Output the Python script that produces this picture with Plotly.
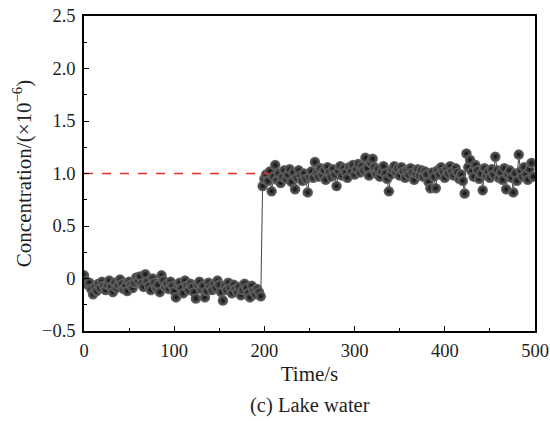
import plotly.graph_objects as go

pre_t = list(range(0, 198, 2))
pre_c = [0.03, -0.02, -0.06, -0.04, -0.10, -0.15, -0.08, -0.12, -0.05, -0.09,
         -0.03, -0.07, -0.11, -0.06, -0.02, -0.08, -0.13, -0.04, -0.09, -0.06,
         -0.01, -0.05, -0.10, -0.07, -0.12, -0.03, -0.06, -0.09, -0.04, 0.01,
         -0.02, 0.02, -0.05, -0.08, 0.04, -0.03, -0.07, -0.11, 0.00, -0.04,
         -0.09, -0.06, -0.13, 0.03, -0.02, -0.08, -0.05, -0.10, -0.03, -0.07,
         -0.12, -0.18, -0.06, -0.04, -0.09, -0.14, -0.02, -0.07, -0.11, -0.05,
         -0.08, -0.13, -0.19, -0.06, -0.03, -0.10, -0.07, -0.18, -0.12, -0.04,
         -0.08, -0.11, -0.05, -0.09, -0.02, -0.06, -0.13, -0.21, -0.07, -0.11,
         -0.04, -0.09, -0.14, -0.06, -0.10, -0.13, -0.08, -0.16, -0.11, -0.05,
         -0.09, -0.14, -0.18, -0.07, -0.12, -0.15, -0.10, -0.13, -0.17]

post_t = list(range(198, 500, 2))
post_c = [0.88, 0.95, 0.99, 0.93, 1.02, 0.83, 0.97, 1.08, 0.94, 1.00,
          0.91, 0.97, 1.03, 0.95, 0.99, 1.04, 0.92, 1.01, 0.85, 0.96,
          1.03, 0.98, 0.93, 1.00, 0.95, 0.82, 0.97, 1.02, 0.96, 1.11,
          1.00, 0.97, 1.05, 0.99, 1.03, 0.94, 1.06, 1.01, 0.97, 1.04,
          0.99, 0.88, 1.02, 1.07, 0.98, 1.05, 1.01, 0.96, 1.06, 1.02,
          1.08, 0.99, 1.04, 1.09, 1.01, 1.07, 1.03, 1.15, 1.05, 0.98,
          1.10, 1.14, 1.06, 1.00, 1.04, 0.97, 1.02, 1.07, 1.00, 0.95,
          0.83, 0.99, 1.04, 1.07, 1.01, 1.05, 0.98, 1.06, 1.02, 0.96,
          1.03, 0.99, 1.05, 1.01, 0.94, 1.00, 1.04, 0.98, 1.03, 0.97,
          1.02, 0.99, 0.92, 0.86, 1.01, 0.97, 0.86, 1.03, 0.99, 1.06,
          1.02, 0.96, 1.04, 1.00, 1.07, 1.02, 0.98, 1.05, 1.01, 0.95,
          0.99, 0.93, 0.81, 1.19, 1.06, 1.13, 1.02, 0.97, 1.08, 1.03,
          0.95, 1.00, 0.84, 1.05, 0.98, 1.02, 0.96, 1.04, 0.99, 1.16,
          1.03, 0.96, 1.01, 0.94, 1.05, 0.85, 0.99, 1.03, 0.96, 0.82,
          1.00, 0.93, 1.18, 1.02, 0.97, 1.06, 0.99, 0.94, 1.04, 1.10,
          0.97]

time_s = pre_t + post_t
conc = pre_c + post_c

ref_x = [0, 205]
ref_y = [1.0, 1.0]

x_ticks = [0, 100, 200, 300, 400, 500]
x_labels = ["0", "100", "200", "300", "400", "500"]
y_ticks = [-0.5, 0, 0.5, 1.0, 1.5, 2.0, 2.5]
y_labels = ["\u22120.5", "0", "0.5", "1.0", "1.5", "2.0", "2.5"]

FONT = "Liberation Serif, Times New Roman, serif"
TXT = "#1e1e1e"

fig = go.Figure()
fig.add_trace(go.Scatter(
    x=time_s, y=conc, mode="lines+markers",
    line=dict(color="#444444", width=1),
    marker=dict(size=10.5, color="#6a6a6a",
                gradient=dict(type="radial", color="#0c0c0c"),
                line=dict(width=0)),
    showlegend=False,
))
fig.add_trace(go.Scatter(
    x=ref_x, y=ref_y, mode="lines",
    line=dict(color="#e8312a", width=1.5, dash="dash"),
    showlegend=False,
))

axis_common = dict(
    showline=True, linecolor="black", linewidth=1.5, mirror=True,
    ticks="inside", ticklen=5, tickwidth=1.2, tickcolor="black",
    showgrid=False, zeroline=False, automargin=False,
    ticklabeloverflow="allow",
    tickfont=dict(family=FONT, size=18.5, color=TXT),
)

fig.update_xaxes(
    range=[0, 500], tickmode="array", tickvals=x_ticks, ticktext=x_labels,
    ticklabelstandoff=2,
    minor=dict(ticks="inside", ticklen=3, tickwidth=1.2, tickcolor="black", dtick=50),
    title=dict(text="Time/s", font=dict(family=FONT, size=21, color=TXT), standoff=6),
    **axis_common,
)
fig.update_yaxes(
    range=[-0.5, 2.5], tickmode="array", tickvals=y_ticks, ticktext=y_labels,
    ticklabelstandoff=3,
    minor=dict(ticks="inside", ticklen=3, tickwidth=1.2, tickcolor="black", dtick=0.25, tick0=0),
    title=dict(text="Concentration/(\u00d710<sup>\u22126</sup>)", font=dict(family=FONT, size=21, color=TXT), standoff=5),
    **axis_common,
)

fig.add_annotation(
    text="(c) Lake water", x=0.5, y=-0.235, xref="paper", yref="paper",
    xanchor="center", yanchor="middle", showarrow=False,
    font=dict(family=FONT, size=20.5, color=TXT),
)

fig.update_layout(
    width=550, height=421,
    margin=dict(l=84, r=15, t=16, b=90),
    plot_bgcolor="white", paper_bgcolor="white",
)

fig.write_html("out.html")
